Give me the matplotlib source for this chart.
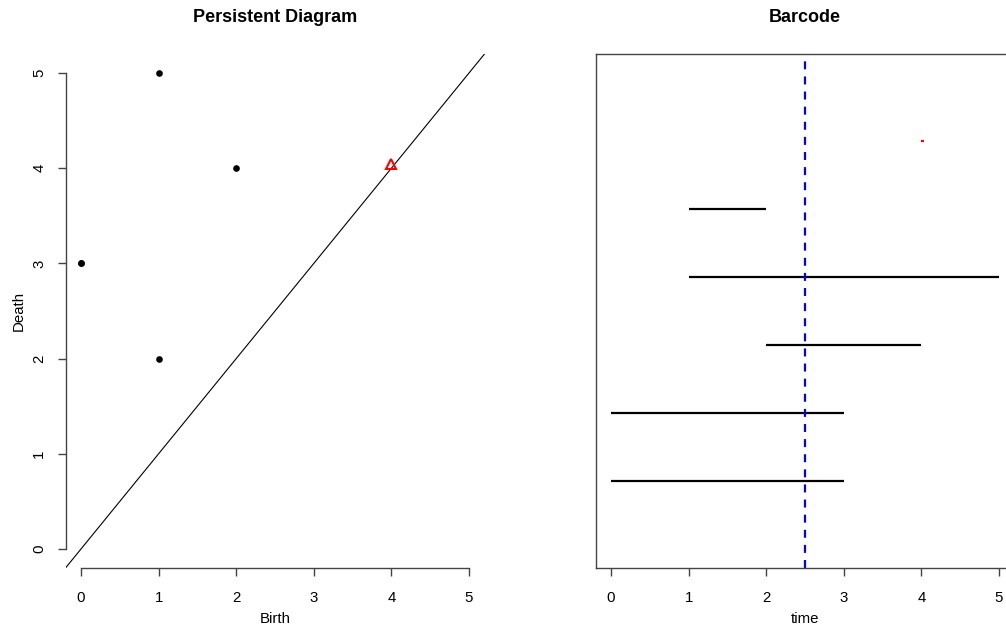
import matplotlib
matplotlib.use("Agg")
import matplotlib.pyplot as plt
import numpy as np

plt.rcParams['font.family'] = ['Liberation Sans', 'DejaVu Sans']

# Persistence pairs (birth, death) and their homological dimension
birth = [0, 0, 2, 1, 1, 4]
death = [3, 3, 4, 5, 2, 4.04]
dimension = [0, 0, 0, 0, 0, 1]
ticks = [0, 1, 2, 3, 4, 5]
threshold = 2.5

W, H = 1006, 630
fig = plt.figure(figsize=(W / 100, H / 100), dpi=100)

def frac_box(x0, y0, x1, y1):
    return [x0 / W, 1 - y1 / H, (x1 - x0) / W, (y1 - y0) / H]

lim = (-0.2, 5.2)
tick_fs = 10.8
axis_col = '#444444'

# ---- Persistence diagram ----
ax1 = fig.add_axes(frac_box(65.5, 54, 484.5, 568))
ax1.set_xlim(lim)
ax1.set_ylim(lim)
ax1.axline((0, 0), slope=1, color='black', lw=0.8)
for b, d, k in zip(birth, death, dimension):
    if k == 0:
        ax1.plot(b, d, 'o', color='black', ms=4.8, mew=0, zorder=3)
    else:
        ax1.plot(b, d, '^', mfc='none', mec='red', ms=6.5, mew=1.5, zorder=3)
for s in ['top', 'right']:
    ax1.spines[s].set_visible(False)
ax1.spines['left'].set_bounds(0, 5)
ax1.spines['bottom'].set_bounds(0, 5)
for s in ['left', 'bottom']:
    ax1.spines[s].set_color(axis_col)
    ax1.spines[s].set_linewidth(1.0)
ax1.set_xticks(ticks)
ax1.set_yticks(ticks)
ax1.tick_params(direction='out', length=5.8, width=1.0, color=axis_col,
                labelsize=tick_fs)
ax1.tick_params(axis='x', pad=10.5)
ax1.tick_params(axis='y', pad=8)
ax1.set_yticklabels([str(t) for t in ticks], rotation=90, va='center')
ax1.set_xlabel('Birth', fontsize=tick_fs, labelpad=5)
ax1.set_ylabel('Death', fontsize=tick_fs, labelpad=4.5)
fig.text(275 / W, 1 - 18 / H, 'Persistent Diagram', ha='center', va='center',
         fontsize=13, fontweight='bold')

# ---- Barcode ----
ax2 = fig.add_axes(frac_box(595.5, 54, 1014.5, 568))
ax2.set_xlim(lim)
n = len(birth)
ax2.set_ylim(-0.04 * (n + 1), (n + 1) * 1.04)
for i, (b, d, k) in enumerate(zip(birth, death, dimension), start=1):
    ax2.plot([b, d], [i, i], color='black' if k == 0 else 'red', lw=1.6,
             solid_capstyle='butt')
ax2.axvline(threshold, color='blue', lw=1.6, ls=(0, (3.6, 3.2)))
for s in ax2.spines.values():
    s.set_color(axis_col)
    s.set_linewidth(1.0)
ax2.set_xticks(ticks)
ax2.set_yticks([])
ax2.tick_params(axis='x', direction='out', length=5.8, width=1.0,
                color=axis_col, labelsize=tick_fs, pad=10.5)
ax2.set_xlabel('time', fontsize=tick_fs, labelpad=5)
fig.text(805 / W, 1 - 18 / H, 'Barcode', ha='center', va='center',
         fontsize=13, fontweight='bold')

fig.savefig('out.png', dpi=100)
